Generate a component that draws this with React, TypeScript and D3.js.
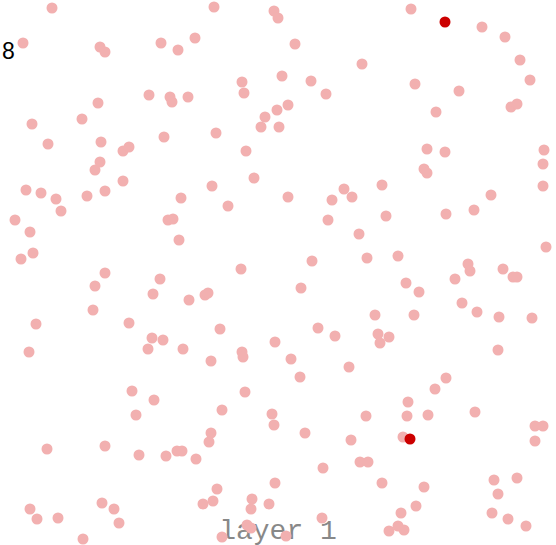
import React, { useEffect, useRef } from "react";
import * as d3 from "d3";

// point positions (x, y in plot units)
const pointsX = [
  52, 214, 274, 278, 411, 482, 505, 23, 100, 105, 161, 178, 195, 295, 362, 520,
  242, 244, 282, 311, 326, 415, 459, 530, 149, 170, 172, 188, 98, 288, 277, 265,
  261, 279, 436, 511, 517, 82, 32, 216, 164, 48, 101, 123, 129, 246, 427, 445,
  544, 543, 100, 95, 424, 427, 254, 123, 212, 382, 543, 26, 41, 56, 61, 87,
  105, 181, 288, 344, 352, 332, 228, 328, 386, 446, 474, 491, 15, 30, 168, 173,
  179, 359, 33, 21, 241, 312, 367, 398, 546, 468, 470, 503, 513, 517, 455, 105,
  160, 95, 153, 301, 205, 208, 189, 406, 419, 93, 36, 129, 220, 318, 335, 375,
  414, 462, 477, 499, 532, 152, 163, 148, 183, 29, 275, 242, 243, 211, 291, 349,
  378, 389, 380, 498, 300, 446, 435, 245, 132, 154, 136, 222, 272, 274, 366, 408,
  407, 428, 475, 211, 209, 305, 351, 403, 535, 543, 535, 47, 105, 139, 166, 177,
  182, 196, 323, 360, 368, 275, 217, 213, 203, 252, 251, 269, 382, 424, 494, 517,
  498, 30, 37, 58, 102, 114, 119, 83, 222, 247, 251, 286, 322, 416, 401, 398,
  404, 389, 492, 508, 526,
];
const pointsY = [
  8, 7, 11, 18, 9, 27, 37, 43, 47, 52, 43, 50, 38, 44, 64, 60,
  82, 93, 76, 81, 94, 84, 91, 80, 95, 97, 102, 97, 103, 105, 110, 117,
  127, 127, 112, 107, 104, 119, 124, 133, 137, 144, 142, 151, 147, 151, 149, 152,
  150, 164, 162, 170, 169, 173, 178, 181, 186, 185, 186, 190, 193, 199, 211, 196,
  191, 198, 197, 189, 197, 200, 206, 220, 216, 214, 210, 195, 220, 232, 220, 219,
  240, 234, 253, 259, 269, 261, 258, 256, 247, 264, 271, 269, 277, 277, 279, 273,
  279, 286, 294, 288, 295, 293, 300, 283, 292, 310, 324, 323, 329, 328, 336, 315,
  315, 303, 312, 317, 318, 338, 340, 349, 349, 352, 342, 352, 357, 361, 359, 367,
  334, 337, 343, 350, 377, 378, 389, 392, 391, 400, 415, 410, 414, 425, 416, 402,
  416, 415, 412, 433, 442, 433, 440, 437, 426, 426, 441, 449, 446, 455, 456, 451,
  451, 459, 468, 462, 462, 483, 489, 501, 504, 499, 509, 504, 483, 487, 480, 478,
  494, 509, 519, 518, 503, 509, 523, 539, 537, 525, 528, 536, 518, 506, 513, 526,
  530, 531, 513, 519, 526,
];
// highlighted points
const hotX = [445, 410];
const hotY = [22, 439];

const topLabel = "8";
const layerLabel = "layer 1";

export default function App() {
  const svgRef = useRef<SVGSVGElement>(null);

  useEffect(() => {
    const width = 556;
    const height = 545;
    const svg = d3.select(svgRef.current);
    svg.selectAll("*").remove();
    svg.attr("width", width).attr("height", height);

    const x = d3.scaleLinear().domain([0, 556]).range([0, width]);
    const y = d3.scaleLinear().domain([0, 545]).range([0, height]);

    svg
      .append("text")
      .attr("x", 2)
      .attr("y", 59)
      .style("font-family", "'Liberation Sans', Arial, sans-serif")
      .style("font-size", "23px")
      .style("fill", "#000")
      .text(topLabel);

    svg
      .append("text")
      .attr("x", 278)
      .attr("y", 539)
      .attr("text-anchor", "middle")
      .style("font-family", "'Courier New', Courier, 'Liberation Mono', 'Nimbus Mono PS', monospace")
      .style("font-size", "28px")
      .style("fill", "#888")
      .text(layerLabel);

    const pts = pointsX.map((px, i) => ({ x: px, y: pointsY[i] }));
    svg
      .append("g")
      .selectAll("circle")
      .data(pts)
      .enter()
      .append("circle")
      .attr("cx", (d) => x(d.x))
      .attr("cy", (d) => y(d.y))
      .attr("r", 5.5)
      .attr("fill", "#f2b0b0");

    const hot = hotX.map((px, i) => ({ x: px, y: hotY[i] }));
    svg
      .append("g")
      .selectAll("circle")
      .data(hot)
      .enter()
      .append("circle")
      .attr("cx", (d) => x(d.x))
      .attr("cy", (d) => y(d.y))
      .attr("r", 5.5)
      .attr("fill", "#cc0000");
  }, []);

  return (
    <svg
      ref={svgRef}
      style={{ position: "absolute", left: 0, top: 0, background: "#fff" }}
    ></svg>
  );
}
